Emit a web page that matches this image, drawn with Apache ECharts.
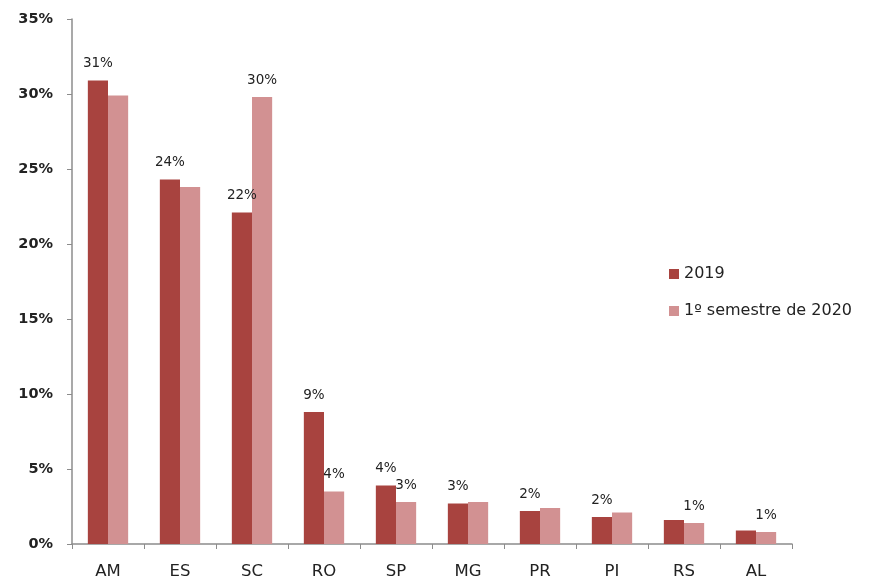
<!DOCTYPE html>
<html>
<head>
<meta charset="utf-8">
<script src="https://cdn.jsdelivr.net/npm/echarts@6/dist/echarts.min.js"></script>
<style>
  html, body { margin: 0; padding: 0; background: #fff; }
  #chart { width: 873px; height: 581px; }
</style>
</head>
<body>
<div id="chart"></div>
<script>
// Categories (states) and shares per period, in percent
const states = ['AM', 'ES', 'SC', 'RO', 'SP', 'MG', 'PR', 'PI', 'RS', 'AL'];
const share2019 = [30.9, 24.3, 22.1, 8.8, 3.9, 2.7, 2.2, 1.8, 1.6, 0.9];
const share2020 = [29.9, 23.8, 29.8, 3.5, 2.8, 2.8, 2.4, 2.1, 1.4, 0.8];
// Which bars carry a value label
const label2019 = [true, true, true, true, true, true, true, true, false, false];
const label2020 = [false, false, true, true, true, false, false, false, true, true];
const yTicks = [0, 5, 10, 15, 20, 25, 30, 35];
const seriesNames = ['2019', '1º semestre de 2020'];

const FONT = 'DejaVu Sans';

function withLabels(values, flags) {
  return values.map((v, i) => ({
    value: v,
    label: { show: flags[i] }
  }));
}

const labelStyle = {
  position: 'top',
  distance: 10,
  fontFamily: FONT,
  fontSize: 13.5,
  color: '#222',
  formatter: p => Math.round(p.value) + '%'
};

const chart = echarts.init(document.getElementById('chart'), null, { renderer: 'canvas' });
chart.setOption({
  animation: false,
  backgroundColor: '#ffffff',
  grid: { left: 72, right: 81, top: 19, bottom: 37 },
  legend: {
    orient: 'vertical',
    left: 664,
    top: 261,
    itemWidth: 10,
    itemHeight: 10,
    itemGap: 21,
    icon: 'rect',
    textStyle: { fontFamily: FONT, fontSize: 16, color: '#222' },
    data: seriesNames
  },
  xAxis: {
    type: 'category',
    data: states,
    boundaryGap: true,
    axisLine: { lineStyle: { color: '#8c8c8c', width: 1.5 } },
    axisTick: { show: true, length: 5, inside: false, lineStyle: { color: '#8c8c8c' } },
    axisLabel: { fontFamily: FONT, fontSize: 16.5, color: '#222', margin: 19 }
  },
  yAxis: {
    type: 'value',
    min: yTicks[0],
    max: yTicks[yTicks.length - 1],
    interval: 5,
    axisLine: { show: true, lineStyle: { color: '#8c8c8c', width: 1.5 } },
    axisTick: { show: true, length: 5, lineStyle: { color: '#8c8c8c' } },
    splitLine: { show: false },
    axisLabel: {
      fontFamily: FONT, fontSize: 14.5, fontWeight: 'bold', color: '#222', margin: 19,
      formatter: v => v + '%'
    }
  },
  series: [
    {
      name: seriesNames[0],
      type: 'bar',
      data: withLabels(share2019, label2019),
      itemStyle: { color: '#a8433f' },
      barGap: '0%',
      barCategoryGap: '44%',
      label: labelStyle
    },
    {
      name: seriesNames[1],
      type: 'bar',
      data: withLabels(share2020, label2020),
      itemStyle: { color: '#d29192' },
      barGap: '0%',
      barCategoryGap: '44%',
      label: labelStyle
    }
  ]
});
</script>
</body>
</html>
